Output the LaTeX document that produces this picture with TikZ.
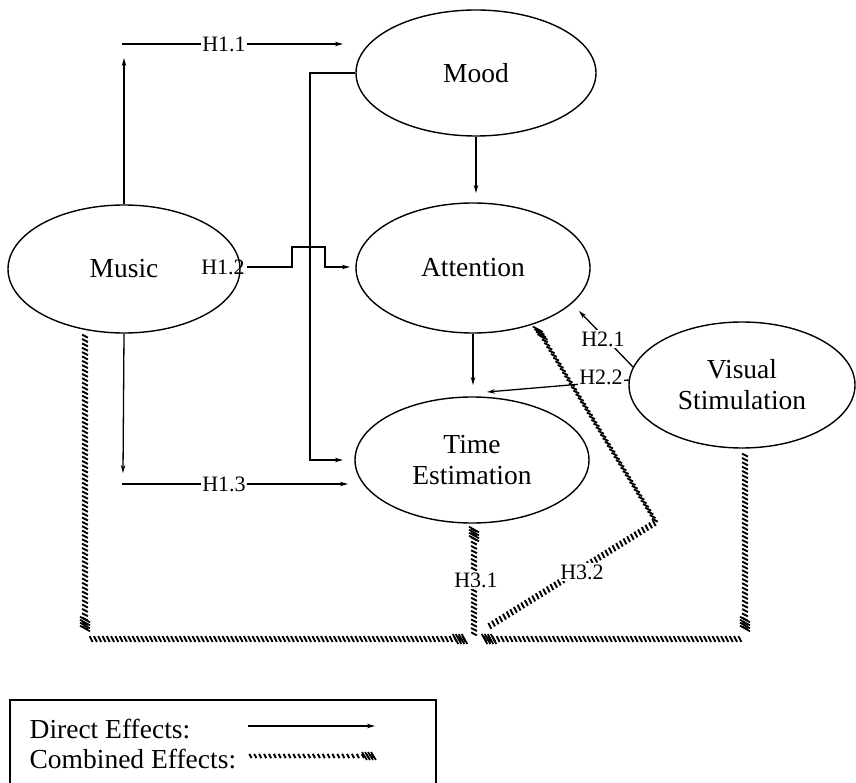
\documentclass[tikz,border=0pt]{standalone}
\usepackage{fontspec}
\setmainfont{Liberation Serif}
\usetikzlibrary{arrows.meta,shapes.geometric,calc}
% #1 start, #2 end, #3 number of ticks, #4/#5 half tick vector (x right, y down)
\newcommand\hatchseg[5]{%
  \foreach \i in {1,...,#3}{%
    \coordinate (hx) at ($(#1)!{(\i-0.5)/#3}!(#2)$);
    \draw[line width=1.9pt] ($(hx)+(-#4,-#5)$) -- ($(hx)+(#4,#5)$);
  }}
\newcommand\hatchtipat[4]{%
  \foreach \d in {1.5pt,4.5pt,7.5pt,10.5pt}{%
    \coordinate (hx) at ($(#2)!\d!(#1)$);
    \draw[line width=1.7pt] ($(hx)+(-#3,-#4)$) -- ($(hx)+(#3,#4)$);
  }}
\begin{document}
\begin{tikzpicture}[x=1pt,y=-1pt, line width=1.3pt,
  >={Stealth[length=8pt,width=4.5pt]},
  var/.style={draw, ellipse, inner sep=0pt, align=center, line width=1.4pt,
    font=\fontsize{27.5}{31}\selectfont},
  lab/.style={font=\fontsize{22}{24}\selectfont, inner sep=1.5pt},
  labw/.style={lab, fill=white},
  txt/.style={font=\fontsize{27.5}{31}\selectfont, inner sep=0pt, anchor=base west}
]
\useasboundingbox (0,0) rectangle (856,783);

% variables
\node[var, minimum width=240pt, minimum height=126pt] (mood) at (476,73) {Mood};
\node[var, minimum width=232pt, minimum height=128pt] (music) at (124,269) {Music};
\node[var, minimum width=234pt, minimum height=130pt] (att) at (473,268) {Attention};
\node[var, minimum width=234pt, minimum height=126pt] (time) at (472,460) {Time\\Estimation};
\node[var, minimum width=226pt, minimum height=126pt] (vis) at (742,385) {Visual\\Stimulation};

% coordinates
\coordinate (h11a) at (124,58);
\coordinate (h11s) at (122,44);
\coordinate (h11e) at (343,44);
\coordinate (h13a) at (123,473);
\coordinate (h13s) at (122,484);
\coordinate (h13e) at (348,484);
\coordinate (h21s) at (633,367);
\coordinate (h21e) at (579,311);
\coordinate (h22s) at (629,380);
\coordinate (h22e) at (487,392);
\coordinate (moodatt) at (476,193);
\coordinate (atttime) at (473,385);
\coordinate (a1) at (85,334);
\coordinate (a2) at (85,630);
\coordinate (b1) at (89,639);
\coordinate (b2) at (466,639);
\coordinate (c1) at (474,636);
\coordinate (c2) at (474,528);
\coordinate (d1) at (745,453);
\coordinate (d2) at (745,630);
\coordinate (e1) at (742,639);
\coordinate (e2) at (483,639);
\coordinate (f1) at (488,627);
\coordinate (f2) at (656,522);
\coordinate (f3) at (537,328);

% combined effects (hatched)
\hatchseg{a1}{a2}{68}{2.9}{1.5}\hatchtipat{a1}{a2}{5}{2.8}
\hatchseg{b1}{b2}{88}{1.5}{2.9}\hatchtipat{b1}{b2}{2.8}{5}
\hatchseg{c1}{c2}{25}{2.9}{1.5}\hatchtipat{c1}{c2}{5}{2.8}
\hatchseg{d1}{d2}{41}{2.9}{1.5}\hatchtipat{d1}{d2}{5}{2.8}
\hatchseg{e1}{e2}{60}{1.5}{2.9}\hatchtipat{e1}{e2}{2.8}{5}
\hatchseg{f1}{f2}{46}{1.5}{2.9}
\hatchseg{f2}{f3}{53}{2.9}{1.5}\hatchtipat{f2}{f3}{5}{2.8}

% direct effects
\draw[->] (music.north) -- (h11a);
\draw[->] (h11s) -- (h11e);
\draw[->] (music.south) -- (h13a);
\draw[->] (h13s) -- (h13e);
\node[lab] (h12) at (223,267) {H1.2};
\draw[->] (h12.east) -- (292,267) -- (292,247) -- (325,247) -- (325,267) -- (350,267);
\draw[->] (mood.west) -- (310,73) -- (310,460) -- (343,460);
\draw[->] (mood.south) -- (moodatt);
\draw[->] (att.south) -- (atttime);
\draw[->] (h21s) -- (h21e);
\draw[->] (h22s) -- (h22e);

% labels
\node[labw] at (224,44) {H1.1};
\node[labw] at (224,484) {H1.3};
\node[labw] at (603,339) {H2.1};
\node[labw] at (601,377) {H2.2};
\node[labw] at (476,580) {H3.1};
\node[labw] at (582,572) {H3.2};

% legend
\draw[line width=1.2pt] (10,790) -- (10,700) -- (436,700) -- (436,790);
\node[txt] (ld) at (29,738) {Direct Effects:};
\node[txt] (lc) at (29,768) {Combined Effects:};
\coordinate (ld1) at (248,726);
\coordinate (ld2) at (375,726);
\coordinate (lc1) at (248,756);
\coordinate (lc2) at (375,756);
\draw[->] (ld1) -- (ld2);
\hatchseg{lc1}{lc2}{26}{1.1}{2.1}\hatchtipat{lc1}{lc2}{2.4}{4}
\end{tikzpicture}
\end{document}
